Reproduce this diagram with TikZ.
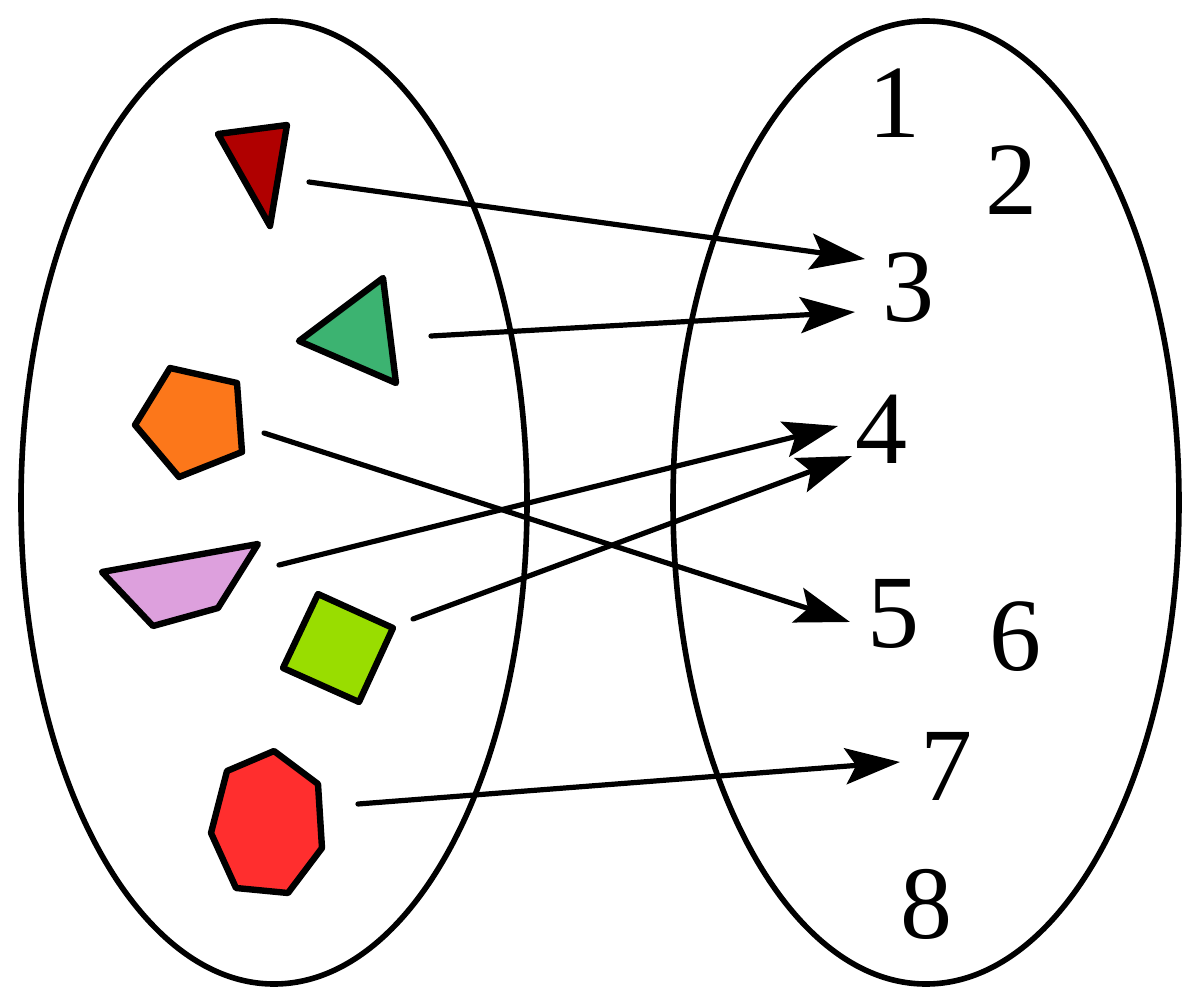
\documentclass[tikz,border=0pt]{standalone}
\usepackage{fontspec}
\setmainfont{Liberation Serif}
\usetikzlibrary{arrows.meta}
\begin{document}
\begin{tikzpicture}[x=0.75pt,y=-0.75pt,
  setline/.style={line width=4.2pt},
  shapeline/.style={draw=black,line width=4.8pt,line join=round},
  arr/.style={line width=3.9pt,line cap=round,-{Stealth[length=41pt,width=27pt,inset=8pt]}},
  num/.style={inner sep=0pt,font=\fontsize{78}{80}\selectfont}]
\useasboundingbox (0,0) rectangle (1200,1006);
\definecolor{cdred}{HTML}{B00000}
\definecolor{cgreen}{HTML}{3CB371}
\definecolor{corange}{HTML}{FC771A}
\definecolor{cpink}{HTML}{DDA0DD}
\definecolor{clime}{HTML}{99DD00}
\definecolor{cred}{HTML}{FF2E2E}
% sets
\draw[setline] (274,502.5) ellipse [x radius=253, y radius=481.5];
\draw[setline] (926,502.5) ellipse [x radius=253, y radius=481.5];
% shapes
\draw[shapeline,fill=cdred] (218,134) -- (287,125) -- (270,226) -- cycle;
\draw[shapeline,fill=cgreen] (299,341) -- (383,278) -- (396,383) -- cycle;
\draw[shapeline,fill=corange] (170,368) -- (237,383) -- (242,452) -- (179,477) -- (135,425) -- cycle;
\draw[shapeline,fill=cpink] (102,572) -- (258,544) -- (218,608) -- (153,626) -- cycle;
\draw[shapeline,fill=clime] (318,594) -- (393,628) -- (359,702) -- (283,668) -- cycle;
\draw[shapeline,fill=cred] (274,751) -- (318,784) -- (322,848) -- (288,893) -- (236,888) -- (211,833) -- (227,771) -- cycle;
% numbers
\node[num] (n1) at (894,103) {1};
\node[num] (n2) at (1011,180) {2};
\node[num] (n3) at (908,288) {3};
\node[num] (n4) at (881,429) {4};
\node[num] (n5) at (893,614) {5};
\node[num] (n6) at (1015,637) {6};
\node[num] (n7) at (946,766) {7};
\node[num] (n8) at (926,904) {8};
% arrow ends
\coordinate (s1) at (309,182); \coordinate (e1) at (865,259);
\coordinate (s2) at (431,336); \coordinate (e2) at (855,312);
\coordinate (s3) at (264,433); \coordinate (e3) at (850,622);
\coordinate (s4) at (279,565); \coordinate (e4) at (838,426);
\coordinate (s5) at (413,619); \coordinate (e5) at (852,456);
\coordinate (s6) at (358,804); \coordinate (e6) at (900,762);
\draw[arr] (s1) -- (e1);
\draw[arr] (s2) -- (e2);
\draw[arr] (s3) -- (e3);
\draw[arr] (s4) -- (e4);
\draw[arr] (s5) -- (e5);
\draw[arr] (s6) -- (e6);
\end{tikzpicture}
\end{document}
